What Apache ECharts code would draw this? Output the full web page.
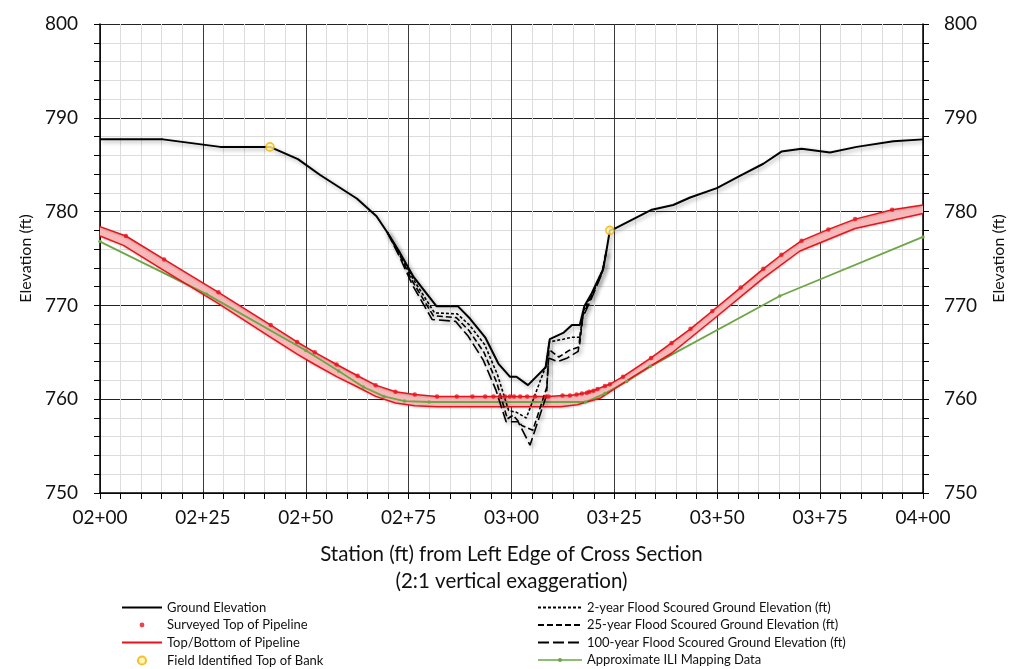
<!DOCTYPE html>
<html>
<head>
<meta charset="utf-8">
<script src="https://cdn.jsdelivr.net/npm/echarts@6/dist/echarts.min.js"></script>
<style>
html, body { margin: 0; padding: 0; background: #fff; }
#chart { width: 1024px; height: 669px; }
</style>
</head>
<body>
<div id="chart"></div>
<script>
// station (ft) / elevation (ft) pairs
var groundElevation = [
    [200, 787.7], [215.3, 787.7], [229.2, 786.9], [241.3, 786.9], [248.1, 785.6], [253.5, 783.9],
    [262.4, 781.4], [267.2, 779.5], [269.8, 777.8], [272.9, 775.6], [276.1, 773.1], [281.8, 769.9],
    [287.0, 769.9], [289.9, 768.6], [293.6, 766.6], [296.8, 763.8], [299.6, 762.4], [301.2, 762.4],
    [304.0, 761.5], [308.3, 763.4], [309.3, 766.4], [312.7, 767.1], [314.7, 767.9], [316.6, 767.9],
    [317.7, 769.9], [319.5, 771.3], [322.3, 773.9], [323.1, 775.9], [323.9, 778.0], [325.2, 778.2],
    [334.1, 780.2], [339.3, 780.7], [343.4, 781.5], [349.9, 782.5], [355.5, 783.8], [361.2, 785.1],
    [365.6, 786.4], [370.5, 786.7], [377.4, 786.3], [383.9, 786.9], [392.8, 787.5], [400, 787.7]
];

var scour2yr = [
    [269.8, 777.8], [272.9, 775.5], [276.1, 772.8], [281.3, 769.2], [286.8, 769.1], [289.8, 767.9],
    [293.5, 765.8], [296.6, 762.6], [299.3, 758.8], [301.2, 758.6], [303.6, 758.0], [308.4, 763.6],
    [309.2, 766.1], [312.6, 766.4], [314.6, 766.6], [316.6, 766.6], [317.6, 769.5], [319.5, 771.2],
    [322.2, 773.8], [323.1, 775.9]
];

var scour25yr = [
    [269.8, 777.8], [272.9, 775.3], [276.0, 772.5], [281.0, 768.9], [286.6, 768.7], [289.7, 767.3],
    [293.3, 765.0], [296.4, 761.8], [299.0, 757.9], [300.4, 758.3], [302.5, 757.2], [305.2, 756.7],
    [308.6, 761.3], [309.1, 765.3], [311.5, 764.5], [314.0, 765.2], [316.5, 765.6], [317.4, 769.0],
    [319.4, 770.9], [322.1, 773.6], [323.1, 775.9]
];

var scour100yr = [
    [269.8, 777.8], [272.9, 775.1], [275.9, 772.2], [280.7, 768.5], [286.4, 768.3], [289.5, 766.7],
    [293.1, 764.2], [296.2, 761.0], [298.7, 757.6], [299.8, 757.6], [301.6, 757.6], [304.5, 755.1],
    [308.5, 760.4], [309.0, 764.4], [311.2, 764.0], [313.6, 764.4], [316.2, 765.1], [317.2, 768.6],
    [319.3, 770.6], [322.0, 773.4], [323.1, 775.9]
];

var surveyedTop = [
    [206.3, 777.4], [215.6, 774.9], [228.8, 771.4], [241.5, 767.9], [247.9, 766.1], [252.2, 765.0],
    [257.5, 763.7], [262.6, 762.5], [267.0, 761.5], [271.8, 760.8], [276.5, 760.5], [281.9, 760.3],
    [286.7, 760.3], [290.5, 760.3], [293.6, 760.3], [295.6, 760.3], [297.2, 760.3], [298.4, 760.3],
    [299.6, 760.3], [300.6, 760.3], [302.1, 760.3], [303.8, 760.3], [305.7, 760.3], [308.4, 760.3],
    [309.0, 760.3], [312.4, 760.4], [314.2, 760.4], [315.8, 760.5], [317.1, 760.6], [318.3, 760.7],
    [318.9, 760.8], [319.9, 760.9], [320.9, 761.1], [322.7, 761.4], [323.9, 761.6], [327.1, 762.4],
    [333.9, 764.4], [338.9, 766.0], [343.5, 767.5], [348.8, 769.4], [355.7, 771.9], [361.2, 773.9],
    [365.6, 775.4], [370.5, 776.9], [377.0, 778.1], [383.5, 779.2], [392.5, 780.2]
];
var pipeTopEnds = [[200, 778.4], [400, 780.7]];

var pipeBottom = [
    [200, 777.4], [205.7, 776.4], [215.6, 773.7], [228.8, 770.2], [241.5, 766.6], [247.9, 764.8],
    [252.2, 763.7], [257.5, 762.4], [262.6, 761.3], [267.0, 760.3], [271.8, 759.6], [276.5, 759.3],
    [282.0, 759.2], [312.0, 759.2], [316.0, 759.4], [321.5, 760.1], [329.6, 762.4], [338.9, 764.9],
    [349.0, 768.5], [361.2, 772.9], [370.1, 775.8], [383.5, 778.2], [400, 779.8]
];

var iliMapping = [
    [200, 776.8], [225.9, 771.2], [250.0, 765.2], [258.0, 763.0], [264.0, 761.3], [269.0, 760.3],
    [274.0, 759.8], [280.0, 759.7], [318.0, 759.7], [322.7, 760.6], [328.0, 761.9], [333.7, 763.5],
    [365.2, 771.0], [400, 777.3]
];

var topOfBank = [[241.3, 786.9], [323.9, 778.0]];

var pipeTop = [pipeTopEnds[0]].concat(surveyedTop, [pipeTopEnds[1]]);

var FONT = 'Lato';

function stationLabel(v) {
    var h = Math.floor(v / 100);
    var r = Math.round(v - h * 100);
    return (h < 10 ? '0' : '') + h + '+' + (r < 10 ? '0' : '') + r;
}

var chart = echarts.init(document.getElementById('chart'));

var lineShadow = {shadowColor: 'rgba(0,0,0,0.35)', shadowBlur: 4, shadowOffsetX: 2, shadowOffsetY: 2};

function scourSeries(name, data, dash) {
    return {
        name: name,
        type: 'line',
        data: data,
        symbol: 'none',
        z: 4,
        itemStyle: {color: '#000'},
        lineStyle: Object.assign({color: '#000', width: 1.6, type: dash}, lineShadow),
        animation: false
    };
}

var legendText = {fontFamily: FONT, fontSize: 13, color: '#111', lineHeight: 13};
var noMark = {opacity: 0};
var dotIcon = 'path://M0,0M10,10M5,3A2,2 0 1,1 5,7A2,2 0 1,1 5,3Z';
var ringIcon = 'path://M0,0M10,10M5,1.6A3.4,3.4 0 1,1 5,8.4A3.4,3.4 0 1,1 5,1.6Z';
// legend glyph for the ILI series: a line with a small marker in the middle
var lineDotIcon = 'path://M0,4.3H40V5.7H0Z M20,3.1A1.9,1.9 0 1,1 20,6.9A1.9,1.9 0 1,1 20,3.1Z';

var option = {
    backgroundColor: '#fff',
    animation: false,
    grid: {left: 100, right: 101, top: 24, bottom: 176},
    legend: [
        {
            left: 121, top: 601, padding: 0, orient: 'vertical',
            itemWidth: 40, itemHeight: 12, itemGap: 4.5,
            textStyle: legendText,
            data: [
                {name: 'Ground Elevation', itemStyle: noMark},
                {name: 'Surveyed Top of Pipeline', icon: dotIcon},
                {name: 'Top/Bottom of Pipeline', itemStyle: noMark},
                {name: 'Field Identified Top of Bank', icon: ringIcon}
            ]
        },
        {
            left: 537, top: 601, padding: 0, orient: 'vertical',
            itemWidth: 44, itemHeight: 12, itemGap: 4.5,
            textStyle: legendText,
            data: [
                {name: '2-year Flood Scoured Ground Elevation (ft)', itemStyle: noMark},
                {name: '25-year Flood Scoured Ground Elevation (ft)', itemStyle: noMark},
                {name: '100-year Flood Scoured Ground Elevation (ft)', itemStyle: noMark},
                {name: 'Approximate ILI Mapping Data', icon: lineDotIcon}
            ]
        }
    ],
    xAxis: {
        type: 'value',
        min: 200,
        max: 400,
        interval: 25,
        name: 'Station (ft) from Left Edge of Cross Section\n(2:1 vertical exaggeration)',
        nameLocation: 'middle',
        nameGap: 48,
        nameTextStyle: {fontFamily: FONT, fontSize: 20.5, color: '#111', lineHeight: 27},
        axisLine: {show: true, lineStyle: {color: '#000', width: 1.5}},
        axisTick: {show: true, length: 6, lineStyle: {color: '#000'}},
        minorTick: {show: true, splitNumber: 5, length: 6, lineStyle: {color: '#000'}},
        axisLabel: {
            margin: 15, fontFamily: FONT, fontSize: 19, color: '#111',
            formatter: function (v) { return stationLabel(v); }
        },
        splitLine: {show: true, lineStyle: {color: '#3a3a3a', width: 1}},
        minorSplitLine: {show: true, lineStyle: {color: '#dcdcdc', width: 1}}
    },
    yAxis: [
        {
            type: 'value', min: 750, max: 800, interval: 10, position: 'left',
            name: 'Elevation (ft)', nameLocation: 'middle', nameGap: 58, nameRotate: 90,
            nameTextStyle: {fontFamily: FONT, fontSize: 16, color: '#111'},
            axisLine: {show: true, lineStyle: {color: '#000', width: 1.5}},
            axisTick: {show: true, length: 6, lineStyle: {color: '#000'}},
            minorTick: {show: true, splitNumber: 5, length: 6, lineStyle: {color: '#000'}},
            axisLabel: {margin: 22, fontFamily: FONT, fontSize: 19, color: '#111'},
            splitLine: {show: true, lineStyle: {color: '#222', width: 1}},
            minorSplitLine: {show: true, lineStyle: {color: '#dcdcdc', width: 1}}
        },
        {
            type: 'value', min: 750, max: 800, interval: 10, position: 'right',
            name: 'Elevation (ft)', nameLocation: 'middle', nameGap: 68, nameRotate: 90,
            nameTextStyle: {fontFamily: FONT, fontSize: 16, color: '#111'},
            axisLine: {show: true, lineStyle: {color: '#000', width: 1.5}},
            axisTick: {show: true, length: 6, lineStyle: {color: '#000'}},
            minorTick: {show: true, splitNumber: 5, length: 6, lineStyle: {color: '#000'}},
            axisLabel: {margin: 21, fontFamily: FONT, fontSize: 19, color: '#111'},
            splitLine: {show: false}
        }
    ],
    series: [
        {
            name: 'pipeBand',
            type: 'custom',
            silent: true,
            z: 1,
            data: [pipeTop[0]],
            renderItem: function (params, api) {
                var pts = pipeTop.map(function (p) { return api.coord(p); });
                var bot = pipeBottom.slice().reverse().map(function (p) { return api.coord(p); });
                return {type: 'polygon', shape: {points: pts.concat(bot)}, style: {fill: '#f6b8b8'}};
            }
        },
        {
            name: 'Approximate ILI Mapping Data',
            type: 'line',
            data: iliMapping,
            symbol: 'circle',
            symbolSize: 3.5,
            showSymbol: true,
            z: 3,
            itemStyle: {color: '#6ea645'},
            lineStyle: {color: '#6ea645', width: 1.8}
        },
        {
            name: 'Top/Bottom of Pipeline',
            type: 'line',
            data: pipeTop,
            symbol: 'none',
            z: 3,
            itemStyle: {color: '#e8141b'},
            lineStyle: {color: '#e8141b', width: 1.5, shadowColor: 'rgba(0,0,0,0.2)', shadowBlur: 2, shadowOffsetY: 1}
        },
        {
            name: 'Top/Bottom of Pipeline',
            type: 'line',
            data: pipeBottom,
            symbol: 'none',
            z: 3,
            itemStyle: {color: '#e8141b'},
            lineStyle: {color: '#e8141b', width: 1.5, shadowColor: 'rgba(0,0,0,0.2)', shadowBlur: 2, shadowOffsetY: 1}
        },
        {
            name: 'Surveyed Top of Pipeline',
            type: 'scatter',
            data: surveyedTop,
            symbol: 'circle',
            symbolSize: 4.5,
            z: 5,
            itemStyle: {color: '#e8141b'}
        },
        scourSeries('2-year Flood Scoured Ground Elevation (ft)', scour2yr, [3, 2]),
        scourSeries('25-year Flood Scoured Ground Elevation (ft)', scour25yr, [6, 3]),
        scourSeries('100-year Flood Scoured Ground Elevation (ft)', scour100yr, [11, 4]),
        {
            name: 'Ground Elevation',
            type: 'line',
            data: groundElevation,
            symbol: 'none',
            z: 5,
            itemStyle: {color: '#000'},
            lineStyle: Object.assign({color: '#000', width: 2}, lineShadow)
        },
        {
            name: 'Field Identified Top of Bank',
            type: 'scatter',
            data: topOfBank,
            symbol: 'circle',
            symbolSize: 8,
            z: 6,
            itemStyle: {color: '#fff1a6', borderColor: '#f2b200', borderWidth: 1.6}
        }
    ]
};

chart.setOption(option);
</script>
</body>
</html>
